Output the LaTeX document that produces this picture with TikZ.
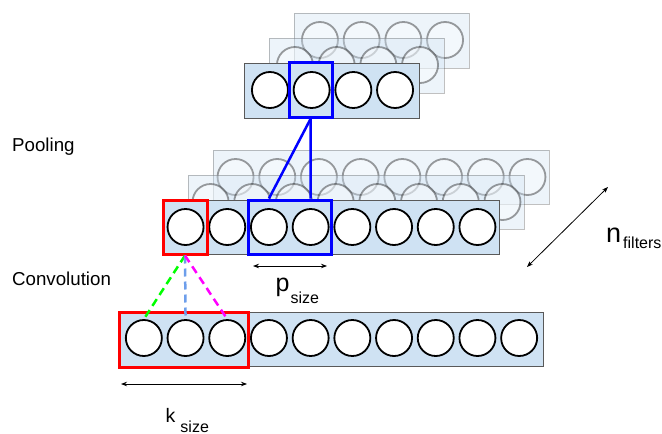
\documentclass[tikz,border=0pt]{standalone}
\usepackage{fontspec}
\setmainfont{Liberation Sans}
\usetikzlibrary{arrows.meta}
\definecolor{rowfill}{HTML}{CFE2F3}
\definecolor{rowdraw}{HTML}{595959}
\definecolor{dashgreen}{HTML}{00FF00}
\definecolor{dashblue}{HTML}{6D9EEB}
\definecolor{dashmag}{HTML}{FF00FF}
\definecolor{hlred}{HTML}{FF0000}
\definecolor{hlblue}{HTML}{0000FF}
\begin{document}
\begin{tikzpicture}[x=1pt,y=-1pt,
  rowbox/.style={rectangle, draw=rowdraw, fill=rowfill, line width=1pt, minimum height=54pt, inner sep=0pt},
  unit/.style={circle, draw=black, fill=white, line width=1.8pt, minimum size=36pt, inner sep=0pt},
  ghost/.style={opacity=0.38},
  hilite/.style={rectangle, line width=3pt, inner sep=0pt, minimum height=54pt},
  dim/.style={line width=0.8pt, {Stealth[length=6pt,width=4.5pt]}-{Stealth[length=6pt,width=4.5pt]}},
  lbl/.style={inner sep=0pt, anchor=base west},
  poolline/.style={draw=hlblue, line width=2.5pt},
  convdash/.style={line width=2.5pt, dash pattern=on 8pt off 5pt}]
\useasboundingbox (0,0) rectangle (662,434);

% bottom (input) row
\node[rowbox, minimum width=424pt] (bot) at (331,339) {};
\foreach \i in {1,...,10} \node[unit] (b\i) at ({331.5+(\i-5.5)*41.7},338) {};

% convolution layer: faded filters behind
\foreach \d/\n in {50/ma, 25/mb} {
  \node[rowbox, ghost, minimum width=336pt] (\n) at (331+\d,227-\d) {};
  \foreach \i in {1,...,8} \node[unit, ghost] (\n-\i) at ({331.5+\d+(\i-4.5)*41.7},{227-\d}) {};
}
\node[rowbox, minimum width=336pt] (mid) at (331,227) {};
\foreach \i in {1,...,8} \node[unit] (m\i) at ({331.5+(\i-4.5)*41.7},227) {};

% pooling layer: faded filters behind
\foreach \d/\n in {50/ta, 25/tb} {
  \node[rowbox, ghost, minimum width=175pt, minimum height=55pt] (\n) at (331.5+\d,90.5-\d) {};
  \foreach \i in {1,...,4} \node[unit, ghost] (\n-\i) at ({332.5+\d+(\i-2.5)*41.7},{90-\d}) {};
}
\node[rowbox, minimum width=175pt, minimum height=55pt] (top) at (331.5,90.5) {};
\foreach \i in {1,...,4} \node[unit] (t\i) at ({332.5+(\i-2.5)*41.7},90) {};

% highlight boxes
\node[hilite, draw=hlred, minimum width=44pt] (redMid) at (185,227) {};
\node[hilite, draw=hlblue, minimum width=83pt] (blueMid) at (289.5,227) {};
\node[hilite, draw=hlblue, minimum width=43pt, minimum height=55pt] (blueTop) at (310.5,90) {};
\node[hilite, draw=hlred, minimum width=129pt, minimum height=55pt] (redBot) at (183.5,339.5) {};

% pooling connectors
\draw[poolline] (blueTop.south) -- (m3 |- blueMid.north);
\draw[poolline] (blueTop.south) -- (m4 |- blueMid.north);

% convolution connectors
\draw[convdash, draw=dashgreen] (redMid.south) -- (b1.north);
\draw[convdash, draw=dashblue] (redMid.south) -- (b2.north);
\draw[convdash, draw=dashmag] (redMid.south) -- (b3.north);

% dimension arrows
\coordinate (pL) at (253,266); \coordinate (pR) at (327,266);
\draw[dim] (pL) -- (pR);
\coordinate (kL) at (121,384); \coordinate (kR) at (247,384);
\draw[dim] (kL) -- (kR);
\coordinate (nA) at (527,267); \coordinate (nB) at (608,187);
\draw[dim] (nA) -- (nB);

% labels
\node[lbl] (pool) at (12,151) {\fontsize{18.7}{20}\selectfont Pooling};
\node[lbl] (conv) at (12,285) {\fontsize{18.7}{20}\selectfont Convolution};
\node[lbl] (psize) at (275.5,291) {\fontsize{25}{25}\selectfont p\kern1pt\raisebox{-12pt}{\fontsize{16}{16}\selectfont size}};
\node[lbl] (ksize) at (165.5,422) {\fontsize{19.5}{20}\selectfont k\kern5pt\raisebox{-10pt}{\fontsize{16}{16}\selectfont size}};
\node[lbl] (nfilt) at (606,242) {\fontsize{27}{27}\selectfont n\kern2pt\raisebox{-6pt}{\fontsize{16}{16}\selectfont filters}};
\end{tikzpicture}
\end{document}
